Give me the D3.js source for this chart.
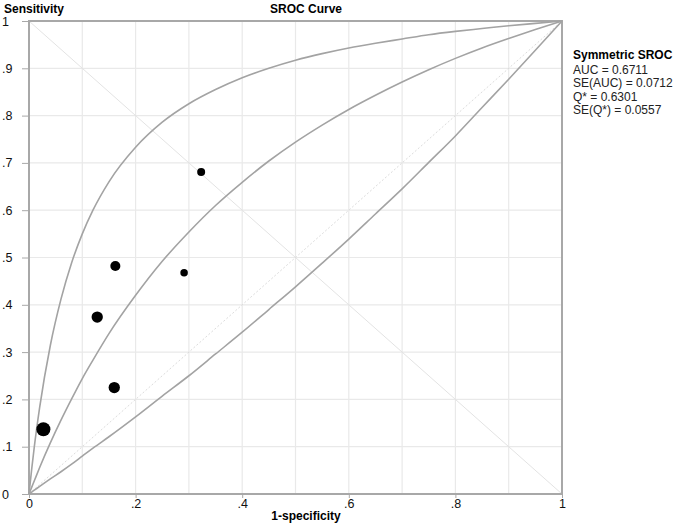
<!DOCTYPE html>
<html>
<head>
<meta charset="utf-8">
<script src="https://cdn.jsdelivr.net/npm/d3@7"></script>
<style>
html,body{margin:0;padding:0;background:#fff;}
svg{display:block;}
svg text{font-family:Arial,"Liberation Sans",Helvetica,sans-serif;}
</style>
</head>
<body>
<svg id="chart" width="674" height="525"></svg>
<script>
// ---- data ----
const studyFpr  = [0.027, 0.160, 0.128, 0.162, 0.291, 0.323];
const studySens = [0.137, 0.225, 0.374, 0.482, 0.468, 0.681];
const studyWeight = [49, 32, 32, 25, 14, 16];

const curveFpr  = [0, 0.005, 0.01, 0.02, 0.04, 0.06, 0.08, 0.10, 0.12, 0.15, 0.20, 0.25, 0.30, 0.35, 0.40, 0.45, 0.50, 0.55, 0.60, 0.65, 0.70, 0.75, 0.80, 0.85, 0.90, 0.95, 1];
const upperSens = [0, 0.052, 0.100, 0.183, 0.314, 0.412, 0.489, 0.550, 0.600, 0.660, 0.733, 0.786, 0.825, 0.855, 0.880, 0.900, 0.917, 0.931, 0.943, 0.953, 0.962, 0.971, 0.978, 0.984, 0.990, 0.995, 1];
const sromSens  = [0, 0.014, 0.028, 0.056, 0.108, 0.156, 0.201, 0.244, 0.283, 0.339, 0.420, 0.492, 0.554, 0.610, 0.659, 0.704, 0.744, 0.780, 0.813, 0.843, 0.871, 0.897, 0.921, 0.943, 0.963, 0.982, 1];
const lowerSens = [0, 0.004, 0.008, 0.016, 0.032, 0.047, 0.063, 0.080, 0.097, 0.121, 0.163, 0.207, 0.250, 0.296, 0.342, 0.390, 0.438, 0.488, 0.539, 0.592, 0.645, 0.701, 0.757, 0.817, 0.877, 0.938, 1];

const xTicks = [0, 0.2, 0.4, 0.6, 0.8, 1];
const xTickLabels = ["0", ".2", ".4", ".6", ".8", "1"];
const yTicks = [0, 0.1, 0.2, 0.3, 0.4, 0.5, 0.6, 0.7, 0.8, 0.9, 1];
const yTickLabels = ["0", ".1", ".2", ".3", ".4", ".5", ".6", ".7", ".8", ".9", "1"];
const gridTicks = [0.1, 0.2, 0.3, 0.4, 0.5, 0.6, 0.7, 0.8, 0.9];
const legendTitle = "Symmetric SROC";
const legendLines = ["AUC = 0.6711", "SE(AUC) = 0.0712", "Q* = 0.6301", "SE(Q*) = 0.0557"];

// ---- drawing ----
const svg = d3.select("#chart");
const L = 29, R = 562, T = 21, B = 494;
const x = d3.scaleLinear().domain([0, 1]).range([L, R]);
const y = d3.scaleLinear().domain([0, 1]).range([B, T]);
const rScale = d3.scaleSqrt().domain([0, 49]).range([0, 7]);

// grid
const g = svg.append("g");
g.selectAll("line.gx").data(gridTicks).join("line")
  .attr("x1", d => x(d)).attr("x2", d => x(d)).attr("y1", T).attr("y2", B)
  .attr("stroke", "#e9e9e9").attr("stroke-width", 1.2);
g.selectAll("line.gy").data(gridTicks).join("line")
  .attr("y1", d => y(d)).attr("y2", d => y(d)).attr("x1", L).attr("x2", R)
  .attr("stroke", "#e9e9e9").attr("stroke-width", 1.2);

// diagonals
svg.append("line").attr("x1", x(0)).attr("y1", y(1)).attr("x2", x(1)).attr("y2", y(0))
  .attr("stroke", "#e3e3e3").attr("stroke-width", 1);
svg.append("line").attr("x1", x(0)).attr("y1", y(0)).attr("x2", x(1)).attr("y2", y(1))
  .attr("stroke", "#dcdcdc").attr("stroke-width", 1).attr("stroke-dasharray", "2,2");

// frame
svg.append("rect").attr("x", L).attr("y", T).attr("width", R - L).attr("height", B - T)
  .attr("fill", "none").attr("stroke", "#a8a8a8").attr("stroke-width", 2);

// curves
const line = d3.line().x(d => x(d[0])).y(d => y(d[1])).curve(d3.curveMonotoneX);
[upperSens, sromSens, lowerSens].forEach(s => {
  svg.append("path").datum(curveFpr.map((f, i) => [f, s[i]]))
    .attr("d", line).attr("fill", "none")
    .attr("stroke", "#a3a3a3").attr("stroke-width", 1.6);
});

// axes
const yAxis = d3.axisLeft(y).tickValues(yTicks).tickSize(7).tickFormat((d, i) => yTickLabels[i]);
const ya = svg.append("g").attr("transform", `translate(${L},0)`).call(yAxis);
ya.attr("font-family", null).attr("font-size", null);
ya.select(".domain").remove();
ya.selectAll(".tick line").attr("stroke", "#a8a8a8");
ya.selectAll(".tick text").attr("text-anchor", "start").attr("x", -L + 2)
  .attr("font-size", "12.5px").attr("fill", "#111");

const xAxis = d3.axisBottom(x).tickValues(xTicks).tickSize(4).tickFormat((d, i) => xTickLabels[i]);
const xa = svg.append("g").attr("transform", `translate(0,${B})`).call(xAxis);
xa.attr("font-family", null).attr("font-size", null);
xa.select(".domain").remove();
xa.selectAll(".tick line").attr("stroke", "#a8a8a8");
xa.selectAll(".tick text").attr("y", 5).attr("font-size", "12.5px").attr("fill", "#111");

// points
svg.selectAll("circle.study").data(studyFpr).join("circle")
  .attr("cx", (d, i) => x(d)).attr("cy", (d, i) => y(studySens[i]))
  .attr("r", (d, i) => rScale(studyWeight[i])).attr("fill", "#000");

// titles
svg.append("text").attr("x", 4).attr("y", 13).attr("font-size", "12px").attr("font-weight", "bold").text("Sensitivity");
svg.append("text").attr("x", 306).attr("y", 13).attr("text-anchor", "middle").attr("font-size", "12px").attr("font-weight", "bold").text("SROC Curve");
svg.append("text").attr("x", 306).attr("y", 520).attr("text-anchor", "middle").attr("font-size", "12px").attr("font-weight", "bold").text("1-specificity");

// legend
svg.append("text").attr("x", 573).attr("y", 59).attr("font-size", "12px").attr("font-weight", "bold").text(legendTitle);
svg.selectAll("text.leg").data(legendLines).join("text")
  .attr("class", "leg")
  .attr("x", 573).attr("y", (d, i) => 73.5 + i * 13.5).attr("font-size", "12px").attr("fill", "#222").text(d => d);
</script>
</body>
</html>
